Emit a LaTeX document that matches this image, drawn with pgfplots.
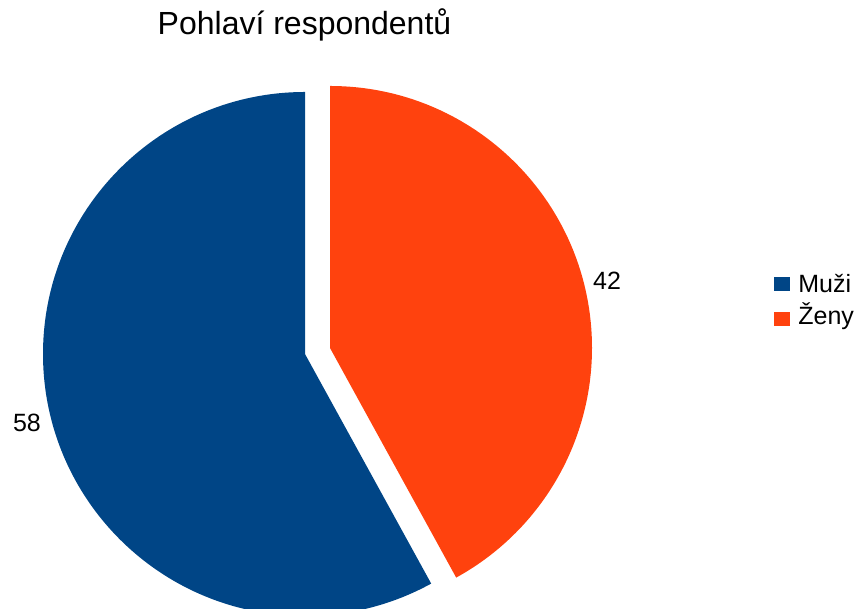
\documentclass[border=0pt]{standalone}
\usepackage{pgfplots}
\pgfplotsset{compat=1.18}
\usepackage{pgfplotstable}
\usepackage{fontspec}
\setmainfont{Liberation Sans}
\definecolor{muzi}{HTML}{004586}
\definecolor{zeny}{HTML}{FF420E}
\pgfplotstableread{
name value
Muzi 58
Zeny 42
}\piedata
\pgfplotstablegetelem{0}{value}\of\piedata \let\va\pgfplotsretval
\pgfplotstablegetelem{1}{value}\of\piedata \let\vb\pgfplotsretval
\pgfmathsetmacro\frac{\va/(\va+\vb)}
\pgfmathsetmacro\aend{90+360*\frac}
\pgfmathsetmacro\bend{\aend-360}
\begin{document}
\begin{tikzpicture}
\begin{axis}[scale only axis, width=431.5pt, height=304.5pt,
  xmin=0, xmax=863, ymin=0, ymax=609, hide axis, clip=true]
\fill[muzi] (axis cs:305,255) -- +(90:131pt) arc[start angle=90, end angle=\aend, radius=131pt] -- cycle;
\fill[zeny] (axis cs:330,261) -- +(90:131pt) arc[start angle=90, end angle=\bend, radius=131pt] -- cycle;
\node[font=\fontsize{16}{19}\selectfont, anchor=base] at (axis cs:304.5,574) {Pohlaví respondentů};
\node[font=\fontsize{12.5}{15}\selectfont] at (axis cs:27,186) {\va};
\node[font=\fontsize{12.5}{15}\selectfont] at (axis cs:607,328) {\vb};
\fill[muzi] (axis cs:774,318) rectangle (axis cs:790,332);
\fill[zeny] (axis cs:774,283) rectangle (axis cs:790,297);
\node[font=\fontsize{12.5}{15}\selectfont, anchor=base west, inner sep=0pt] at (axis cs:798,316) {Muži};
\node[font=\fontsize{12.5}{15}\selectfont, anchor=base west, inner sep=0pt] at (axis cs:798,284) {Ženy};
\end{axis}
\pgfresetboundingbox
\path (current axis.south west) rectangle (current axis.north east);
\end{tikzpicture}
\end{document}
